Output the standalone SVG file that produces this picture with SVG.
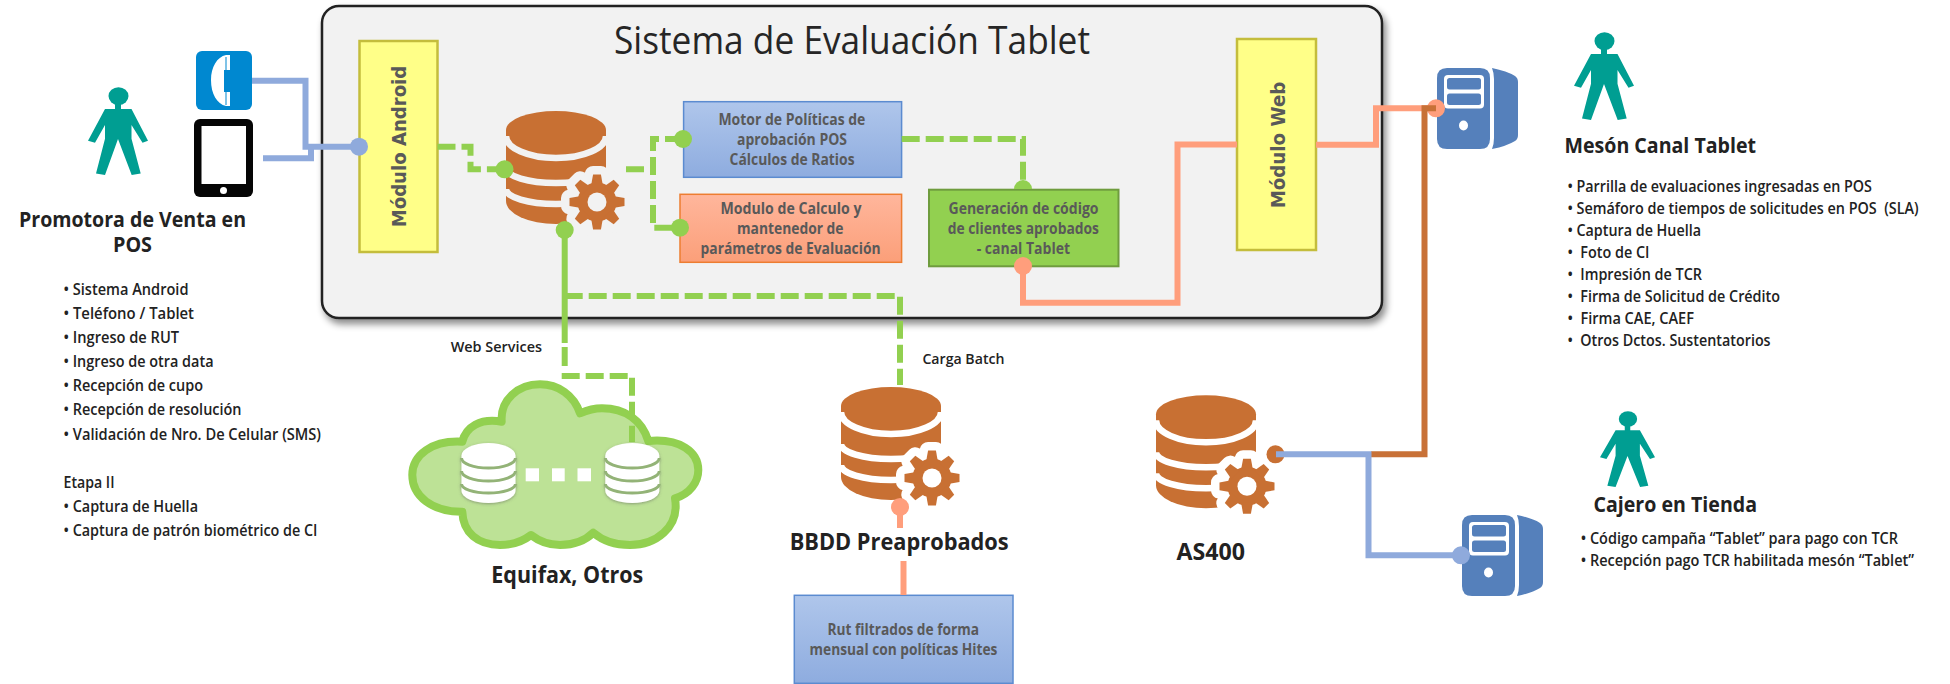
<svg xmlns="http://www.w3.org/2000/svg" width="1950" height="684" viewBox="0 0 1950 684">
<style>
text{font-family:"Open Sans","Noto Sans","Liberation Sans",sans-serif;font-weight:700;fill:#222}
.h{font-size:21px}
.t{font-size:16px;font-weight:600}
.l{font-size:14.500px;font-weight:600}
.b{font-size:15.500px;fill:#595959}
.v{font-family:"DejaVu Sans",sans-serif;font-size:19px;fill:#595959;text-anchor:middle}
.title{font-size:38px;font-weight:400;fill:#262626}
.mod{fill:#ffff88;stroke:#c4bd3c;stroke-width:2.500}
.blue{fill:none;stroke:#8faadc;stroke-width:6}
.green{fill:none;stroke:#92d050;stroke-width:6;stroke-dasharray:18 6}
.gsolid{fill:none;stroke:#92d050;stroke-width:6}
.salmon{fill:none;stroke:#ff9e7c;stroke-width:6}
.brown{fill:none;stroke:#c87137;stroke-width:6}
.srv{fill:#5580bb}
.db{fill:#c87033}
.gap{fill:none;stroke:currentColor;stroke-width:6.500}
.arc{fill:none;stroke:#93b377;stroke-width:3}
</style>
<defs>
<linearGradient id="gBlue" x1="0" y1="0" x2="0" y2="1"><stop offset="0" stop-color="#afc6eb"/><stop offset="1" stop-color="#8eacdf"/></linearGradient>
<linearGradient id="gOrange" x1="0" y1="0" x2="0" y2="1"><stop offset="0" stop-color="#ffb69c"/><stop offset="1" stop-color="#fb9f79"/></linearGradient>
<filter id="shadow" x="-5%" y="-5%" width="110%" height="115%"><feDropShadow dx="3" dy="5" stdDeviation="3.500" flood-color="#000" flood-opacity="0.45"/></filter>
<filter id="soft" x="-20%" y="-20%" width="140%" height="140%"><feDropShadow dx="0" dy="1" stdDeviation="1.500" flood-color="#555" flood-opacity="0.5"/></filter>
<polygon id="tooth" points="16,-6 27.500,-3.900 27.500,3.900 16,6"/>
<g id="gear">
<circle r="19.500"/>
<use href="#tooth"/><use href="#tooth" transform="rotate(45)"/><use href="#tooth" transform="rotate(90)"/><use href="#tooth" transform="rotate(135)"/><use href="#tooth" transform="rotate(180)"/><use href="#tooth" transform="rotate(225)"/><use href="#tooth" transform="rotate(270)"/><use href="#tooth" transform="rotate(315)"/>
</g>
<g id="database">
<path class="db" d="M0 19A50 19 0 0 1 100 19V90A50 23 0 0 1 0 90Z"/>
<path class="gap" d="M0 25A50 22 0 0 0 100 25M0 57A50 15 0 0 0 100 57M0 78A50 15 0 0 0 100 78"/>
<use href="#gear" x="91" y="91" style="fill:currentColor;stroke:currentColor;stroke-width:17;stroke-linejoin:round"/>
<use href="#gear" x="91" y="91" class="db"/>
<circle cx="91" cy="91" r="9.500" style="fill:currentColor"/>
</g>
<g id="server">
<path class="srv" d="M10 0H43Q53 0 53 10V71Q53 81 43 81H10Q0 81 0 71V10Q0 0 10 0Z"/>
<rect x="7" y="7" width="40" height="33.500" rx="4" fill="#fff"/>
<rect x="10" y="10" width="34" height="11.500" rx="2.500" class="srv"/>
<rect x="10" y="25.500" width="34" height="11.500" rx="2.500" class="srv"/>
<ellipse cx="26.500" cy="57.500" rx="4.500" ry="5" fill="#fff"/>
<path class="srv" d="M55 0Q70 3 78 8Q81 10 81 14V67Q81 71 78 73Q70 78 55 81Q57 76 57 70V11Q57 5 55 0Z"/>
</g>
<g id="person" fill="#009e92">
<ellipse cx="30.500" cy="10" rx="10" ry="11"/>
<path d="M27 18H33V26H43.500L60 65L54.500 67.500L43.500 45.600V62.600L52.700 105.600L43.700 107.400L30 63L17 107.400L8 105.600L17 62.600V45.600L7 67.500L0 65L17 26H27Z"/>
</g>
<g id="minidb">
<path fill="#fff" d="M0 12.500A27 12.500 0 0 1 54 12.500V48A27 12 0 0 1 0 48Z"/>
<path class="arc" d="M0 15A27 10 0 0 0 54 15M0 28A27 10 0 0 0 54 28M0 41A27 9 0 0 0 54 41"/>
</g>
</defs>

<g id="panel">
<rect x="322" y="6" width="1060" height="312" rx="17" fill="#f2f2f2" stroke="#222" stroke-width="2.500" filter="url(#shadow)"/>
<text class="title" x="614" y="53.500" textLength="476" lengthAdjust="spacingAndGlyphs">Sistema de Evaluación Tablet</text>
</g>

<g id="persona-promotora">
<use href="#person" transform="translate(88,88) scale(1,0.81)"/>
<text class="h" x="19" y="226.500" textLength="227" lengthAdjust="spacingAndGlyphs">Promotora de Venta en</text>
<text class="h" x="113" y="251.500" textLength="39" lengthAdjust="spacingAndGlyphs">POS</text>
<text class="t" x="63.500" y="295" textLength="125" lengthAdjust="spacingAndGlyphs">• Sistema Android</text>
<text class="t" x="63.500" y="319" textLength="130.500" lengthAdjust="spacingAndGlyphs">• Teléfono / Tablet</text>
<text class="t" x="63.500" y="343" textLength="115.500" lengthAdjust="spacingAndGlyphs">• Ingreso de RUT</text>
<text class="t" x="63.500" y="367" textLength="150" lengthAdjust="spacingAndGlyphs">• Ingreso de otra data</text>
<text class="t" x="63.500" y="391" textLength="139.500" lengthAdjust="spacingAndGlyphs">• Recepción de cupo</text>
<text class="t" x="63.500" y="415" textLength="178" lengthAdjust="spacingAndGlyphs">• Recepción de resolución</text>
<text class="t" x="63.500" y="439.500" textLength="257.500" lengthAdjust="spacingAndGlyphs">• Validación de Nro. De Celular (SMS)</text>
<text class="t" x="63.500" y="488" textLength="51" lengthAdjust="spacingAndGlyphs">Etapa II</text>
<text class="t" x="63.500" y="512" textLength="134.500" lengthAdjust="spacingAndGlyphs">• Captura de Huella</text>
<text class="t" x="63.500" y="536" textLength="254" lengthAdjust="spacingAndGlyphs">• Captura de patrón biométrico de CI</text>
</g>

<g id="telefono">
<rect x="196" y="51" width="56" height="59" rx="6" fill="#0088d0"/>
<path fill="#fff" d="M226 55H230V70H224V92H230V106H226C217 104 211 94 211 80C211 67 217 57 226 55Z"/>
<path fill="#0088d0" d="M225.500 57H226.500V70H225.500ZM225.500 92H226.500V105H225.500Z"/>
</g>
<g id="tablet">
<rect x="194" y="119" width="59" height="78" rx="6" fill="#050505"/>
<rect x="201.500" y="126" width="44.500" height="58" fill="#fff"/>
<circle cx="223.500" cy="190.500" r="3.500" fill="#fff"/>
</g>

<g id="modulo-android">
<rect class="mod" x="359.500" y="41" width="78" height="211"/>
<text class="v" transform="translate(406,146.500) rotate(-90)" textLength="161.500" lengthAdjust="spacingAndGlyphs">Módulo Android</text>
</g>
<g id="db-principal" color="#f2f2f2"><use href="#database" transform="translate(506,111)"/></g>
<g id="motor">
<rect x="683.600" y="101.700" width="218" height="75.600" fill="url(#gBlue)" stroke="#5b8bd0" stroke-width="1.500"/>
<text class="b" x="718.400" y="125" textLength="147" lengthAdjust="spacingAndGlyphs">Motor de Políticas de</text>
<text class="b" x="737" y="145" textLength="110" lengthAdjust="spacingAndGlyphs">aprobación POS</text>
<text class="b" x="729.600" y="165" textLength="125" lengthAdjust="spacingAndGlyphs">Cálculos de Ratios</text>
</g>
<g id="modulo-calculo">
<rect x="680" y="194.300" width="221.600" height="68" fill="url(#gOrange)" stroke="#ed7d31" stroke-width="1.500"/>
<text class="b" x="720.500" y="214" textLength="141" lengthAdjust="spacingAndGlyphs">Modulo de Calculo y</text>
<text class="b" x="737" y="234" textLength="106.500" lengthAdjust="spacingAndGlyphs">mantenedor de</text>
<text class="b" x="700.600" y="254" textLength="180" lengthAdjust="spacingAndGlyphs">parámetros de Evaluación</text>
</g>
<g id="generacion">
<rect x="929" y="189.700" width="189.500" height="76.600" fill="#92d050" stroke="#6f9c3e" stroke-width="2"/>
<text class="b" x="948.500" y="214" textLength="150" lengthAdjust="spacingAndGlyphs">Generación de código</text>
<text class="b" x="947.700" y="234" textLength="151.300" lengthAdjust="spacingAndGlyphs">de clientes aprobados</text>
<text class="b" x="976.700" y="254" textLength="93.300" lengthAdjust="spacingAndGlyphs">- canal Tablet</text>
</g>
<g id="modulo-web">
<rect class="mod" x="1237" y="39" width="79" height="211"/>
<text class="v" transform="translate(1285,145) rotate(-90)" textLength="126.700" lengthAdjust="spacingAndGlyphs">Módulo Web</text>
</g>

<g id="equifax">
<path fill="#bde296" stroke="#92d050" stroke-width="8" stroke-linejoin="round" d="M501.700 421.700C500 400 518 384.300 540 384.300C558 384.300 574 395 580 413.300C590 409 596 408.300 602 408.300C625 408.300 642 420 648.300 441C680 438 698.300 452 698.300 470C698.300 482 690 494 675 498.300C680 528 655 545 630 545C615 545 603 541 593.300 532.700C585 541 573 545 560 545C550 545 540 542 531 535C522 542 511 545 500 545C478 545 463 533 462.300 511.700C432 512 412.300 496 412.300 475C412.300 455 432 440 462.300 441.700C466 427 480 418 501.700 421.700Z"/>
<rect x="525.700" y="468.300" width="13.300" height="13" fill="#fff"/>
<rect x="552" y="468.300" width="12.700" height="13" fill="#fff"/>
<rect x="577.500" y="468.300" width="13.500" height="13" fill="#fff"/>
<text class="h" x="491.300" y="582.500" textLength="152" lengthAdjust="spacingAndGlyphs" style="font-size:24px">Equifax, Otros</text>
</g>
<g id="bbdd-preaprobados" color="#fff">
<use href="#database" transform="translate(841,387)"/>
<text class="h" x="789.700" y="549.500" textLength="219" lengthAdjust="spacingAndGlyphs" style="font-size:23px">BBDD Preaprobados</text>
</g>
<g id="rut-filtrados">
<rect x="794.300" y="595.300" width="218.700" height="88" fill="url(#gBlue)" stroke="#5b8bd0" stroke-width="1.500"/>
<text class="b" x="827.500" y="635.300" textLength="151.500" lengthAdjust="spacingAndGlyphs">Rut filtrados de forma</text>
<text class="b" x="809.600" y="655.300" textLength="187.800" lengthAdjust="spacingAndGlyphs">mensual con políticas Hites</text>
</g>
<g id="as400" color="#fff">
<use href="#database" transform="translate(1156,395.300)"/>
<text class="h" x="1176.500" y="559.500" textLength="68.500" lengthAdjust="spacingAndGlyphs" style="font-size:23px">AS400</text>
</g>
<g id="servidor-meson"><use href="#server" transform="translate(1437,68)"/></g>
<g id="servidor-tienda"><use href="#server" transform="translate(1462,515)"/></g>

<g id="meson-canal-tablet">
<use href="#person" transform="translate(1574,33) scale(1,0.81)"/>
<text class="h" x="1564.500" y="152.500" textLength="191.500" lengthAdjust="spacingAndGlyphs">Mesón Canal Tablet</text>
<text class="t" x="1567.400" y="192" textLength="304.600" lengthAdjust="spacingAndGlyphs">• Parrilla de evaluaciones ingresadas en POS</text>
<text class="t" xml:space="preserve" x="1567.400" y="214" textLength="351.200" lengthAdjust="spacingAndGlyphs">• Semáforo de tiempos de solicitudes en POS  (SLA)</text>
<text class="t" x="1567.400" y="236" textLength="133.600" lengthAdjust="spacingAndGlyphs">• Captura de Huella</text>
<text class="t" xml:space="preserve" x="1567.400" y="258" textLength="82.100" lengthAdjust="spacingAndGlyphs">•  Foto de CI</text>
<text class="t" xml:space="preserve" x="1567.400" y="280" textLength="134.600" lengthAdjust="spacingAndGlyphs">•  Impresión de TCR</text>
<text class="t" xml:space="preserve" x="1567.400" y="302" textLength="212.600" lengthAdjust="spacingAndGlyphs">•  Firma de Solicitud de Crédito</text>
<text class="t" xml:space="preserve" x="1567.400" y="324" textLength="126.600" lengthAdjust="spacingAndGlyphs">•  Firma CAE, CAEF</text>
<text class="t" xml:space="preserve" x="1567.400" y="345.700" textLength="203.200" lengthAdjust="spacingAndGlyphs">•  Otros Dctos. Sustentatorios</text>
</g>
<g id="cajero-en-tienda">
<use href="#person" transform="translate(1600,412) scale(0.917,0.698)"/>
<text class="h" x="1593.500" y="512" textLength="163.500" lengthAdjust="spacingAndGlyphs">Cajero en Tienda</text>
<text class="t" x="1580.700" y="543.700" textLength="317.300" lengthAdjust="spacingAndGlyphs">• Código campaña “Tablet” para pago con TCR</text>
<text class="t" x="1580.700" y="566" textLength="333.300" lengthAdjust="spacingAndGlyphs">• Recepción pago TCR habilitada mesón “Tablet”</text>
</g>

<text class="l" x="450.700" y="352" textLength="91.300" lengthAdjust="spacingAndGlyphs">Web Services</text>
<text class="l" x="922.400" y="364" textLength="82.100" lengthAdjust="spacingAndGlyphs">Carga Batch</text>

<g id="connectors">
<path class="blue" d="M252 80.700H305.500V146.700H359"/>
<path class="blue" d="M263 158.300H311V146.700"/>
<circle cx="359" cy="146.700" r="9" fill="#8faadc"/>
<path class="green" d="M437.500 146.700H470.500V169.300H504.500"/>
<circle cx="504.500" cy="169.300" r="9" fill="#92d050"/>
<path class="green" d="M626 169.300H653"/>
<path class="green" d="M683 139H653V227.700H680"/>
<circle cx="683" cy="139" r="9" fill="#92d050"/>
<circle cx="680" cy="227.700" r="9" fill="#92d050"/>
<path class="green" d="M901.700 139H1023V186"/>
<path fill="#92d050" d="M1014 189A9 9 0 0 1 1032 189Z"/>
<path class="gsolid" d="M564.700 230V343M564.700 347V366"/>
<path class="green" d="M564.700 373V376H632V442"/>
<path class="green" d="M564.700 296H900V385"/>
<circle cx="564.700" cy="230" r="9" fill="#92d050"/>
<path class="salmon" d="M1023 266V302.700H1177.500V144.500H1237"/>
<circle cx="1023" cy="266" r="9" fill="#ff9e7c"/>
<path class="salmon" d="M1316 144.700H1376V108.300H1436"/>
<circle cx="1436" cy="108.300" r="9" fill="#ff9e7c"/>
<path class="brown" d="M1436 108.300H1424.500V454.300H1371"/>
<circle cx="1275.500" cy="454.300" r="9" fill="#c87033"/>
<path class="blue" d="M1276 454.300H1368.500V555.300H1461"/>
<circle cx="1461" cy="555.300" r="9" fill="#8faadc"/>
<circle cx="900" cy="507" r="9" fill="#ff9e7c"/>
<path class="salmon" d="M900 507V528"/>
<path class="salmon" d="M903.500 561V595"/>
</g>
<g id="equifax-bases">
<use href="#minidb" x="461.500" y="443" filter="url(#soft)"/>
<use href="#minidb" x="605.300" y="443" filter="url(#soft)"/>
</g>
</svg>
